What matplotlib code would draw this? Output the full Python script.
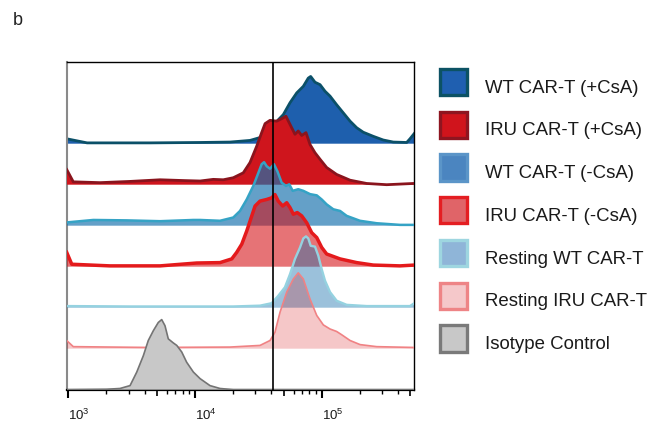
import matplotlib
matplotlib.use('Agg')
import numpy as np
import matplotlib.pyplot as plt
from matplotlib.patches import Rectangle
from matplotlib.ticker import FixedLocator, NullFormatter, NullLocator

plt.rcParams['font.family'] = ['Liberation Sans', 'DejaVu Sans']
plt.rcParams['mathtext.fontset'] = 'custom'
plt.rcParams['mathtext.rm'] = 'Liberation Sans'
plt.rcParams['mathtext.it'] = 'Liberation Sans:italic'
plt.rcParams['mathtext.bf'] = 'Liberation Sans:bold'

# ---------------- data ----------------
labels = ["WT CAR-T (+CsA)", "IRU CAR-T (+CsA)", "WT CAR-T (-CsA)",
          "IRU CAR-T (-CsA)", "Resting WT CAR-T", "Resting IRU CAR-T",
          "Isotype Control"]
offsets = [6, 5, 4, 3, 2, 1, 0]
gate = 41500
x_limits = (10 ** 2.987, 10 ** 5.731)
major_ticks = [1e3, 1e4, 1e5]
tick_labels = ["$10^{3}$", "$10^{4}$", "$10^{5}$"]

# log10 fluorescence / normalized count
wt_csa_logx = [2.987, 3.148, 3.645, 4.04, 4.276, 4.434, 4.513, 4.568, 4.631, 4.697,
               4.750, 4.803, 4.855, 4.894, 4.913, 4.947, 4.987, 5.026, 5.066, 5.118,
               5.171, 5.224, 5.276, 5.328, 5.407, 5.486, 5.565, 5.671, 5.697, 5.731]
wt_csa_h = [0.12, 0.02, 0.02, 0.03, 0.04, 0.08, 0.15, 0.30, 0.50, 0.71,
            1.00, 1.24, 1.40, 1.60, 1.64, 1.50, 1.44, 1.28, 1.16, 0.95,
            0.75, 0.55, 0.39, 0.28, 0.18, 0.09, 0.04, 0.03, 0.12, 0.25]

iru_csa_logx = [2.987, 3.039, 3.25, 3.487, 3.724, 3.921, 4.04, 4.144, 4.223, 4.302,
                4.381, 4.434, 4.487, 4.526, 4.553, 4.592, 4.645, 4.684, 4.718, 4.750,
                4.789, 4.815, 4.842, 4.876, 4.908, 4.947, 4.987, 5.039, 5.118, 5.224,
                5.355, 5.513, 5.723, 5.731]
iru_csa_h = [0.37, 0.07, 0.05, 0.08, 0.12, 0.10, 0.09, 0.13, 0.12, 0.17,
             0.29, 0.54, 0.94, 1.27, 1.49, 1.57, 1.55, 1.61, 1.67, 1.47,
             1.23, 1.31, 1.20, 1.27, 0.98, 0.78, 0.62, 0.42, 0.25, 0.11,
             0.03, 0.00, 0.03, 0.03]

wt_nocsa_logx = [2.987, 3.197, 3.461, 3.724, 3.987, 4.04, 4.197, 4.302, 4.355, 4.408,
                 4.460, 4.500, 4.526, 4.545, 4.566, 4.592, 4.623, 4.650, 4.684, 4.718,
                 4.744, 4.771, 4.815, 4.855, 4.908, 4.961, 5.000, 5.039, 5.092, 5.145,
                 5.197, 5.302, 5.434, 5.618, 5.731]
wt_nocsa_h = [0.08, 0.14, 0.13, 0.11, 0.14, 0.14, 0.12, 0.20, 0.36, 0.64,
              0.97, 1.29, 1.50, 1.55, 1.45, 1.39, 1.50, 1.33, 1.05, 0.97,
              1.01, 0.85, 0.89, 0.85, 0.77, 0.74, 0.64, 0.52, 0.40, 0.36,
              0.24, 0.12, 0.06, 0.02, 0.02]

iru_nocsa_logx = [2.987, 3.027, 3.329, 3.724, 4.013, 4.197, 4.29, 4.329, 4.369, 4.408,
                  4.448, 4.474, 4.513, 4.566, 4.605, 4.631, 4.657, 4.692, 4.724, 4.750,
                  4.776, 4.807, 4.842, 4.882, 4.921, 4.961, 5.000, 5.039, 5.145, 5.276,
                  5.407, 5.618, 5.731]
iru_nocsa_h = [0.35, 0.06, 0.02, 0.02, 0.09, 0.10, 0.19, 0.35, 0.55, 0.87,
               1.24, 1.48, 1.60, 1.64, 1.68, 1.76, 1.60, 1.48, 1.56, 1.44,
               1.28, 1.32, 1.24, 1.07, 0.83, 0.71, 0.47, 0.31, 0.19, 0.10,
               0.04, 0.02, 0.04]

rest_wt_logx = [2.987, 3.5, 4.0, 4.3, 4.513, 4.605, 4.657, 4.71, 4.75, 4.789,
                4.829, 4.855, 4.876, 4.894, 4.913, 4.947, 4.973, 5.0, 5.026, 5.066,
                5.118, 5.197, 5.355, 5.697, 5.731]
rest_wt_h = [0.04, 0.03, 0.03, 0.03, 0.05, 0.11, 0.29, 0.50, 0.82, 1.19,
             1.47, 1.69, 1.74, 1.69, 1.51, 1.49, 1.27, 0.94, 0.66, 0.38,
             0.17, 0.07, 0.04, 0.04, 0.11]

rest_iru_logx = [2.987, 3.039, 3.645, 4.276, 4.513, 4.592, 4.631, 4.671, 4.724, 4.776,
                 4.815, 4.855, 4.908, 4.961, 5.013, 5.066, 5.118, 5.158, 5.224, 5.303,
                 5.434, 5.731]
rest_iru_h = [0.20, 0.05, 0.03, 0.04, 0.08, 0.20, 0.40, 0.89, 1.38, 1.70,
              1.85, 1.70, 1.21, 0.81, 0.58, 0.48, 0.42, 0.34, 0.20, 0.10,
              0.05, 0.03]

iso_logx = [2.987, 3.3, 3.408, 3.487, 3.540, 3.592, 3.631, 3.671, 3.710, 3.737,
            3.763, 3.789, 3.829, 3.856, 3.895, 3.934, 3.987, 4.04, 4.118, 4.197,
            4.302, 5.731]
iso_h = [0.0, 0.01, 0.03, 0.10, 0.43, 0.83, 1.20, 1.44, 1.64, 1.71,
         1.56, 1.24, 1.14, 1.08, 0.92, 0.67, 0.43, 0.27, 0.10, 0.03,
         0.0, 0.0]

series_logx = [wt_csa_logx, iru_csa_logx, wt_nocsa_logx, iru_nocsa_logx,
               rest_wt_logx, rest_iru_logx, iso_logx]
series_h = [wt_csa_h, iru_csa_h, wt_nocsa_h, iru_nocsa_h,
            rest_wt_h, rest_iru_h, iso_h]

# ---------------- styles ----------------
fill_colors = ["#1e5fad", "#cf151d", "#1b73ae", "#d40e13", "#1b73ae", "#d40e13", "#c8c8c8"]
fill_alphas = [1.0, 1.0, 0.68, 0.58, 0.44, 0.23, 1.0]
edge_colors = ["#0b5068", "#8a141d", "#35a3c5", "#e41a1c", "#95d2e0", "#f08284", "#747474"]
edge_widths = [2.0, 2.0, 1.8, 2.5, 1.7, 1.2, 1.2]
leg_fill = ["#1f5fb0", "#d0141c", "#4b85c0", "#e06468", "#8fb5d8", "#f5c8ca", "#c8c8c8"]
leg_edge = ["#0c5264", "#8e1520", "#5b95c8", "#e41e22", "#9ed6e0", "#ee8486", "#7a7a7a"]

W, H = 653, 427
fig = plt.figure(figsize=(W / 100, H / 100), dpi=100)
ax = fig.add_axes([66.7 / W, 1 - 390.7 / H, (414.3 - 66.7) / W, (390.7 - 62.7) / H])

for i, (lx, hh) in enumerate(zip(series_logx, series_h)):
    x = 10 ** np.array(lx)
    y = offsets[i] + np.array(hh)
    z = 2 + i
    ax.fill_between(x, offsets[i], y, facecolor=fill_colors[i], alpha=fill_alphas[i],
                    linewidth=0, zorder=z)
    ax.plot(x, y, color=edge_colors[i], lw=edge_widths[i], zorder=z + 0.5,
            solid_joinstyle='round')

ax.axvline(gate, color='black', lw=1.2, zorder=20)

ax.set_xscale('log')
ax.set_xlim(*x_limits)
ax.set_ylim(0, 8)
ax.yaxis.set_major_locator(NullLocator())
ax.yaxis.set_minor_locator(NullLocator())

ax.xaxis.set_major_locator(FixedLocator(major_ticks))
ax.set_xticklabels(tick_labels)
minor = [m * 10 ** e for e in (3, 4, 5) for m in (2, 3, 4, 6, 7, 8, 9)]
ax.xaxis.set_minor_locator(FixedLocator(minor))
ax.xaxis.set_minor_formatter(NullFormatter())
ax.tick_params(axis='x', which='major', length=6, width=1.5, direction='out',
               labelsize=9.5, pad=6, color='black', labelcolor='#1a1a1a')
ax.tick_params(axis='x', which='minor', length=3, width=1.0, direction='out', color='black')
for lbl in ax.get_xticklabels():
    lbl.set_horizontalalignment('left')

sec = ax.secondary_xaxis('bottom')
sec.set_xscale('log')
sec.xaxis.set_major_locator(FixedLocator([5e3, 5e4, 5e5]))
sec.xaxis.set_major_formatter(NullFormatter())
sec.xaxis.set_minor_locator(NullLocator())
sec.tick_params(axis='x', length=4.3, width=1.2, direction='out')
sec.spines['bottom'].set_visible(False)

ax.spines['left'].set_color('#8a8a8a')
ax.spines['left'].set_linewidth(1.5)
ax.spines['bottom'].set_linewidth(1.6)
ax.spines['top'].set_linewidth(1.0)
ax.spines['right'].set_linewidth(1.0)

# legend drawn in figure pixel coordinates
pitch = 42.7
for i, lab in enumerate(labels):
    cy = 83.2 + pitch * i
    size = 26.3
    x0 = 440.35
    fig.add_artist(Rectangle((x0 / W, 1 - (cy + size / 2) / H), size / W, size / H,
                             transform=fig.transFigure, facecolor=leg_fill[i],
                             edgecolor=leg_edge[i], lw=2.4))
    fig.text(485 / W, 1 - (cy + 9.5) / H, lab, fontsize=13.4, color='#1a1a1a',
             ha='left', va='baseline')

fig.text(13 / W, 1 - 25 / H, "b", fontsize=13, color='#222222', ha='left', va='baseline')

fig.savefig('out.png', dpi=100)
